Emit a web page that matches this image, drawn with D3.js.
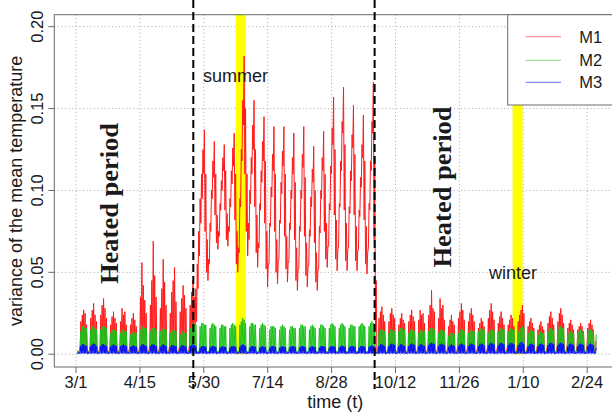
<!DOCTYPE html>
<html><head><meta charset="utf-8">
<script src="https://cdn.jsdelivr.net/npm/d3@7/dist/d3.min.js"></script>
<style>body{margin:0;background:#fff}svg{display:block}text{font-family:"Liberation Sans",Arial,sans-serif;fill:#1a1a1a}</style>
</head><body><svg id="c" width="612" height="414"></svg>
<script>
// Daily maxima / minima, units of 0.001; one row per week, day 0 = 3/1
const m1High = [
2,2.5,20,24,27,25,18, 2,2.5,22,27,31,24,20, 2,2.5,24,30,34,28,22, 2,2.5,18,23,26,22,19,
2,2.5,20,28,24,26,18, 2,2.5,18,22,25,21,17, 2,2.5,35,56,42,33,25, 2,2.5,30,45,69,48,35,
2,2.5,28,40,58,44,30, 2,2.5,25,38,45,53,32, 2,2.5,26,34,42,36,28, 2,2.5,30,38,45,35,40,
55,75,95,110,125,137,110, 70,58,80,100,118,130,110, 85,75,92,106,120,128,112, 86,78,95,112,126,135,110,
75,65,95,125,155,182,150, 110,80,100,120,140,155,125, 85,68,92,112,130,145,118, 75,55,80,102,122,139,110,
70,56,82,105,124,139,110, 72,56,80,100,120,135,105, 65,52,78,100,122,139,108, 68,54,76,96,113,127,100,
62,52,78,100,120,136,110, 80,66,92,115,138,157,125, 82,64,92,118,142,163,128, 80,64,90,112,134,152,122,
78,63,88,108,128,146,118, 78,62,92,118,142,166,120, 45,3,22,26,29,24,20, 2,2.5,20,25,28,24,22,
2,2.5,18,22,25,21,19, 2,2.5,20,24,27,23,20, 2,2.5,21,27,24,25,19, 2,2.5,24,30,39,28,26,
2,2.5,22,34,28,30,21, 2,2.5,17,21,24,20,18, 2,2.5,22,26,31,27,21, 2,2.5,20,25,28,24,20,
2,2.5,16,19,22,20,17, 2,2.5,22,27,31,26,21, 2,2.5,19,23,26,22,18, 2,2.5,18,21,24,22,17,
2,2.5,20,24,27,30,25, 2,2.5,17,20,22,19,16, 2,2.5,15,18,20,17,15, 2,2.5,19,23,26,22,18,
2,2.5,20,25,28,24,19, 2,2.5,16,19,21,18,15, 2,2.5,15,17,19,17,14, 2,2.5,16,19,21,18,15,
2,8];
const m1Low = [
1.5,1.5,5,5,5,5,5, 1.5,1.5,5,5,5,5,5, 1.5,1.5,5,5,5,5,5, 1.5,1.5,5,5,5,5,5,
1.5,1.5,5,5,5,5,5, 1.5,1.5,5,5,5,5,5, 1.5,1.5,5,5,5,5,5, 1.5,1.5,5,5,5,5,5,
1.5,1.5,5,5,5,5,5, 1.5,1.5,5,5,5,5,5, 1.5,1.5,5,5,5,5,5, 1.5,1.5,5,5,5,5,18,
20,40,60,80,95,110,75, 50,45,55,75,95,108,85, 68,64,72,88,100,112,88, 70,66,75,90,104,115,82,
55,50,62,90,118,140,110, 75,60,70,92,110,125,90, 62,53,65,88,105,118,80, 52,41,55,78,96,112,75,
50,43,58,80,98,115,72, 52,44,56,76,95,110,70, 45,39,52,75,95,114,72, 48,41,54,72,90,105,68,
44,39,52,74,95,112,75, 58,53,66,88,110,128,85, 58,51,66,90,112,135,88, 57,51,65,86,106,126,85,
57,51,64,84,102,120,82, 55,49,65,88,112,135,70, 15,1.5,5,5,5,5,5, 1.5,1.5,5,5,5,5,5,
1.5,1.5,5,5,5,5,5, 1.5,1.5,5,5,5,5,5, 1.5,1.5,5,5,5,5,5, 1.5,1.5,5,5,5,5,5,
1.5,1.5,5,5,5,5,5, 1.5,1.5,5,5,5,5,5, 1.5,1.5,5,5,5,5,5, 1.5,1.5,5,5,5,5,5,
1.5,1.5,5,5,5,5,5, 1.5,1.5,5,5,5,5,5, 1.5,1.5,5,5,5,5,5, 1.5,1.5,5,5,5,5,5,
1.5,1.5,5,5,5,5,5, 1.5,1.5,5,5,5,5,5, 1.5,1.5,5,5,5,5,5, 1.5,1.5,5,5,5,5,5,
1.5,1.5,5,5,5,5,5, 1.5,1.5,5,5,5,5,5, 1.5,1.5,5,5,5,5,5, 1.5,1.5,5,5,5,5,5,
1.5,3];
const m2High = [
1.8,2,14,17,17,16,16, 1.8,2,15,17,17,16,15, 1.8,2,15,17,18,17,16, 1.8,2,13,15,15,15,14,
1.8,2,13,15,15,14,14, 1.8,2,12,13,14,13,13, 1.8,2,15,17,17,16,16, 1.8,2,14,16,16,16,15,
1.8,2,14,15,16,15,15, 1.8,2,13,15,15,14,14, 1.8,2,12,14,14,13,13, 1.8,2,16,18,19,18,18,
1.8,2,17,19,19,18,18, 1.8,2,16,18,19,18,17, 1.8,2,16,18,18,17,17, 1.8,2,16,18,19,18,17,
1.8,2,18,20,22,21,19, 1.8,2,17,19,19,18,18, 1.8,2,16,18,19,18,17, 1.8,2,15,17,17,17,16,
1.8,2,15,17,18,17,16, 1.8,2,15,17,17,16,16, 1.8,2,16,18,18,17,17, 1.8,2,15,17,18,17,16,
1.8,2,16,18,18,17,16, 1.8,2,16,18,19,18,17, 1.8,2,16,18,19,18,17, 1.8,2,16,18,18,17,17,
1.8,2,17,18,19,18,17, 1.8,2,17,19,20,19,18, 1.8,2,13,15,15,15,14, 1.8,2,13,15,15,14,14,
1.8,2,14,16,16,15,15, 1.8,2,13,15,15,15,14, 1.8,2,13,15,15,14,14, 1.8,2,14,16,16,16,15,
1.8,2,13,15,15,15,14, 1.8,2,11,13,13,13,12, 1.8,2,13,15,15,15,14, 1.8,2,13,15,15,14,14,
1.8,2,14,16,16,15,15, 1.8,2,13,15,15,15,14, 1.8,2,14,16,16,15,15, 1.8,2,14,16,16,15,15,
1.8,2,14,15,16,17,16, 1.8,2,13,15,15,14,14, 1.8,2,12,14,14,13,13, 1.8,2,14,16,16,15,15,
1.8,2,15,17,17,16,16, 1.8,2,12,14,14,13,13, 1.8,2,13,14,15,14,13, 1.8,2,13,15,15,14,14,
1.8,12];
const m2Low = [
0.8,0.8,2,2,2,2,2, 0.8,0.8,2,2,2,2,2, 0.8,0.8,2,2,2,2,2, 0.8,0.8,2,2,2,2,2,
0.8,0.8,2,2,2,2,2, 0.8,0.8,2,2,2,2,2, 0.8,0.8,2,2,2,2,2, 0.8,0.8,2,2,2,2,2,
0.8,0.8,2,2,2,2,2, 0.8,0.8,2,2,2,2,2, 0.8,0.8,2,2,2,2,2, 0.8,0.8,2,2,2,2,2,
0.8,0.8,2,2,2,2,2, 0.8,0.8,2,2,2,2,2, 0.8,0.8,2,2,2,2,2, 0.8,0.8,2,2,2,2,2,
0.8,0.8,2,2,2,2,2, 0.8,0.8,2,2,2,2,2, 0.8,0.8,2,2,2,2,2, 0.8,0.8,2,2,2,2,2,
0.8,0.8,2,2,2,2,2, 0.8,0.8,2,2,2,2,2, 0.8,0.8,2,2,2,2,2, 0.8,0.8,2,2,2,2,2,
0.8,0.8,2,2,2,2,2, 0.8,0.8,2,2,2,2,2, 0.8,0.8,2,2,2,2,2, 0.8,0.8,2,2,2,2,2,
0.8,0.8,2,2,2,2,2, 0.8,0.8,2,2,2,2,2, 0.8,0.8,2,2,2,2,2, 0.8,0.8,2,2,2,2,2,
0.8,0.8,2,2,2,2,2, 0.8,0.8,2,2,2,2,2, 0.8,0.8,2,2,2,2,2, 0.8,0.8,2,2,2,2,2,
0.8,0.8,2,2,2,2,2, 0.8,0.8,2,2,2,2,2, 0.8,0.8,2,2,2,2,2, 0.8,0.8,2,2,2,2,2,
0.8,0.8,2,2,2,2,2, 0.8,0.8,2,2,2,2,2, 0.8,0.8,2,2,2,2,2, 0.8,0.8,2,2,2,2,2,
0.8,0.8,2,2,2,2,2, 0.8,0.8,2,2,2,2,2, 0.8,0.8,2,2,2,2,2, 0.8,0.8,2,2,2,2,2,
0.8,0.8,2,2,2,2,2, 0.8,0.8,2,2,2,2,2, 0.8,0.8,2,2,2,2,2, 0.8,0.8,2,2,2,2,2,
0.8,2];
const m3High = [
1,1.2,5,6,6,5.5,5, 1,1.2,5,6,6.5,6,5, 1,1.2,5,6,6,5.5,5, 1,1.2,4.5,5.5,6,5.5,5,
1,1.2,5,5.5,6,5.5,5, 1,1.2,4.5,5,5.5,5,4.5, 1,1.2,5,6,6,5.5,5, 1,1.2,5,6,6,5.5,5,
1,1.2,4.5,5.5,6,5.5,5, 1,1.2,4.5,5.5,5.5,5,5, 1,1.2,4.5,5.5,5.5,5,4.5, 1,1.2,5,5.5,6,5.5,5,
1,1.2,4,4.8,5,4.8,4.5, 1,1.2,4,4.8,5,4.8,4.5, 1,1.2,4,4.6,4.8,4.6,4.4, 1,1.2,4,4.8,5,4.8,4.5,
1,1.2,4.5,5.5,6,5.5,5, 1,1.2,4,4.8,5,4.8,4.5, 1,1.2,4,4.6,4.8,4.6,4.4, 1,1.2,4,4.8,5,4.8,4.5,
1,1.2,4,4.6,4.8,4.6,4.4, 1,1.2,4,4.8,5,4.8,4.5, 1,1.2,4,4.8,5,4.8,4.5, 1,1.2,4,4.6,4.8,4.6,4.4,
1,1.2,4,4.8,5,4.8,4.5, 1,1.2,4,4.8,5,4.8,4.5, 1,1.2,4,4.8,5.2,4.8,4.5, 1,1.2,4,4.8,5,4.8,4.5,
1,1.2,4,4.8,5,4.8,4.5, 1,1.2,4.5,5,5.5,5,4.5, 1,1.2,5,6,6,5.5,5, 1,1.2,5,6,6.5,6,5.5,
1,1.2,5,6,6,5.5,5, 1,1.2,5,6,6.5,6,5.5, 1,1.2,5,6,6,5.5,5, 1,1.2,5.5,6.5,7,6.5,6,
1,1.2,5,6,6.5,6,5.5, 1,1.2,4.5,5.5,6,5.5,5, 1,1.2,5,6,6.5,6,5.5, 1,1.2,5,6,6.5,6,5.5,
1,1.2,5,6,6.5,6,5.5, 1,1.2,5.5,6.5,7,6.5,6, 1,1.2,5.5,6.5,7,6.5,6, 1,1.2,5.5,6.5,7,6.5,6,
1,1.2,5.5,6.5,7.5,7,6, 1,1.2,5,6,6.5,6,5.5, 1,1.2,5,6,6.5,6,5.5, 1,1.2,5.5,6.5,7,6.5,6,
1,1.2,5.5,6.5,7,6.5,6, 1,1.2,5,6,6.5,6,5.5, 1,1.2,5,6,6.5,6,5.5, 1,1.2,5,6,6.5,6,5.5,
1,4];
const m3Low = [
0.3,0.3,0.5,0.5,0.5,0.5,0.5, 0.3,0.3,0.5,0.5,0.5,0.5,0.5, 0.3,0.3,0.5,0.5,0.5,0.5,0.5, 0.3,0.3,0.5,0.5,0.5,0.5,0.5,
0.3,0.3,0.5,0.5,0.5,0.5,0.5, 0.3,0.3,0.5,0.5,0.5,0.5,0.5, 0.3,0.3,0.5,0.5,0.5,0.5,0.5, 0.3,0.3,0.5,0.5,0.5,0.5,0.5,
0.3,0.3,0.5,0.5,0.5,0.5,0.5, 0.3,0.3,0.5,0.5,0.5,0.5,0.5, 0.3,0.3,0.5,0.5,0.5,0.5,0.5, 0.3,0.3,0.5,0.5,0.5,0.5,0.5,
0.3,0.3,0.5,0.5,0.5,0.5,0.5, 0.3,0.3,0.5,0.5,0.5,0.5,0.5, 0.3,0.3,0.5,0.5,0.5,0.5,0.5, 0.3,0.3,0.5,0.5,0.5,0.5,0.5,
0.3,0.3,0.5,0.5,0.5,0.5,0.5, 0.3,0.3,0.5,0.5,0.5,0.5,0.5, 0.3,0.3,0.5,0.5,0.5,0.5,0.5, 0.3,0.3,0.5,0.5,0.5,0.5,0.5,
0.3,0.3,0.5,0.5,0.5,0.5,0.5, 0.3,0.3,0.5,0.5,0.5,0.5,0.5, 0.3,0.3,0.5,0.5,0.5,0.5,0.5, 0.3,0.3,0.5,0.5,0.5,0.5,0.5,
0.3,0.3,0.5,0.5,0.5,0.5,0.5, 0.3,0.3,0.5,0.5,0.5,0.5,0.5, 0.3,0.3,0.5,0.5,0.5,0.5,0.5, 0.3,0.3,0.5,0.5,0.5,0.5,0.5,
0.3,0.3,0.5,0.5,0.5,0.5,0.5, 0.3,0.3,0.5,0.5,0.5,0.5,0.5, 0.3,0.3,0.5,0.5,0.5,0.5,0.5, 0.3,0.3,0.5,0.5,0.5,0.5,0.5,
0.3,0.3,0.5,0.5,0.5,0.5,0.5, 0.3,0.3,0.5,0.5,0.5,0.5,0.5, 0.3,0.3,0.5,0.5,0.5,0.5,0.5, 0.3,0.3,0.5,0.5,0.5,0.5,0.5,
0.3,0.3,0.5,0.5,0.5,0.5,0.5, 0.3,0.3,0.5,0.5,0.5,0.5,0.5, 0.3,0.3,0.5,0.5,0.5,0.5,0.5, 0.3,0.3,0.5,0.5,0.5,0.5,0.5,
0.3,0.3,0.5,0.5,0.5,0.5,0.5, 0.3,0.3,0.5,0.5,0.5,0.5,0.5, 0.3,0.3,0.5,0.5,0.5,0.5,0.5, 0.3,0.3,0.5,0.5,0.5,0.5,0.5,
0.3,0.3,0.5,0.5,0.5,0.5,0.5, 0.3,0.3,0.5,0.5,0.5,0.5,0.5, 0.3,0.3,0.5,0.5,0.5,0.5,0.5, 0.3,0.3,0.5,0.5,0.5,0.5,0.5,
0.3,0.3,0.5,0.5,0.5,0.5,0.5, 0.3,0.3,0.5,0.5,0.5,0.5,0.5, 0.3,0.3,0.5,0.5,0.5,0.5,0.5, 0.3,0.3,0.5,0.5,0.5,0.5,0.5,
0.3,0.5];

const seriesNames = ["M1", "M2", "M3"];
const seriesColors = ["#ff1a1a", "#1ec21e", "#0a0aff"];
const xTickDays = [0, 45, 90, 135, 180, 225, 270, 315, 360];
const xTickLabels = ["3/1", "4/15", "5/30", "7/14", "8/28", "10/12", "11/26", "1/10", "2/24"];
const yTicks = [0, 0.05, 0.10, 0.15, 0.20];
const yTickLabels = ["0.00", "0.05", "0.10", "0.15", "0.20"];
const bandNames = ["summer", "winter"];
const bandFrom = [112.5, 307.5];
const bandTo = [119.5, 314.5];
const periodBreaks = [82.6, 210.3];
const periodLabel = "Heated period";

const svg = d3.select("#c");
const L = 54.3, R = 616, T = 14.7, B = 367;
const x = d3.scaleLinear().domain([-15.3, 380.3]).range([L, R]);
const y = d3.scaleLinear().domain([-0.0078, 0.2073]).range([B, T]);

svg.append("defs").append("clipPath").attr("id", "clip")
  .append("rect").attr("x", L).attr("y", T).attr("width", R - L).attr("height", B - T);

// grid
const grid = svg.append("g").attr("stroke", "#a8a8a8").attr("stroke-width", 1).attr("stroke-dasharray", "1,2.6");
xTickDays.forEach(d => grid.append("line").attr("x1", x(d)).attr("x2", x(d)).attr("y1", T).attr("y2", B));
yTicks.forEach(v => grid.append("line").attr("x1", L).attr("x2", R).attr("y1", y(v)).attr("y2", y(v)));

const plot = svg.append("g").attr("clip-path", "url(#clip)");
// season bands
bandFrom.forEach((f, i) => {
  plot.append("rect").attr("x", x(f)).attr("width", x(bandTo[i]) - x(f))
    .attr("y", T).attr("height", y(0) - T).attr("fill", "#ffff00");
});

function points(hi, lo) {
  const n = Math.min(hi.length, lo.length), out = [];
  for (let i = 0; i < n; i++) { out.push([i + 0.9, lo[i]]); out.push([i + 1.4, hi[i]]); }
  return out;
}
const line = d3.line().x(p => x(p[0])).y(p => y(p[1] / 1000));
const series = [[m1High, m1Low], [m2High, m2Low], [m3High, m3Low]];
series.forEach((s, i) => {
  plot.append("path").attr("d", line(points(s[0], s[1])))
    .attr("fill", "none").attr("stroke", seriesColors[i]).attr("stroke-width", 1)
    .attr("stroke-linejoin", "round");
});

// box
svg.append("rect").attr("x", L).attr("y", T).attr("width", R - L).attr("height", B - T)
  .attr("fill", "none").attr("stroke", "#6a6a6a").attr("stroke-width", 1);

// axes ticks
const ax = svg.append("g").attr("stroke", "#6a6a6a").attr("stroke-width", 1);
xTickDays.forEach(d => ax.append("line").attr("x1", x(d)).attr("x2", x(d)).attr("y1", B).attr("y2", B + 6));
yTicks.forEach(v => ax.append("line").attr("x1", L - 6).attr("x2", L).attr("y1", y(v)).attr("y2", y(v)));
xTickDays.forEach((d, i) => svg.append("text").attr("x", x(d)).attr("y", 387.5)
  .attr("text-anchor", "middle").attr("font-size", 16.5).text(xTickLabels[i]));
yTicks.forEach((v, i) => svg.append("text")
  .attr("transform", `translate(43,${y(v)}) rotate(-90)`)
  .attr("text-anchor", "middle").attr("font-size", 16.5).text(yTickLabels[i]));
svg.append("text").attr("x", (L + R) / 2).attr("y", 408).attr("text-anchor", "middle")
  .attr("font-size", 18).text("time (t)");
svg.append("text").attr("transform", `translate(21.5,${(T + B) / 2}) rotate(-90)`)
  .attr("text-anchor", "middle").attr("font-size", 18).text("variance of the mean temperature");

// period breaks
periodBreaks.forEach(d => svg.append("line").attr("x1", x(d)).attr("x2", x(d)).attr("y1", 0).attr("y2", 389)
  .attr("stroke", "#000").attr("stroke-width", 2).attr("stroke-dasharray", "8,4"));

// season labels
svg.append("text").attr("x", 203).attr("y", 82).attr("font-size", 18).text(bandNames[0]);
svg.append("text").attr("x", 489).attr("y", 279).attr("font-size", 18).text(bandNames[1]);

// heated period labels
[[118, 203.5], [450.5, 187]].forEach(p => svg.append("text")
  .attr("transform", `translate(${p[0]},${p[1]}) rotate(-90)`)
  .attr("text-anchor", "middle").attr("font-size", 26).attr("font-weight", "bold")
  .style("font-family", '"Liberation Serif","Times New Roman",serif')
  .attr("textLength", 161).attr("lengthAdjust", "spacingAndGlyphs").text(periodLabel));

// legend
const lg = svg.append("g");
lg.append("rect").attr("x", 507.7).attr("y", T).attr("width", 120).attr("height", 105 - T)
  .attr("fill", "#fff").attr("stroke", "#6a6a6a").attr("stroke-width", 1);
const legY = [36.7, 60.3, 82.3];
seriesNames.forEach((nm, i) => {
  lg.append("line").attr("x1", 525.7).attr("x2", 561).attr("y1", legY[i]).attr("y2", legY[i])
    .attr("stroke", seriesColors[i]).attr("stroke-width", 1).attr("stroke-opacity", 0.6);
  lg.append("text").attr("x", 579.3).attr("y", legY[i] + 6).attr("font-size", 16.5).text(nm);
});
</script></body></html>
